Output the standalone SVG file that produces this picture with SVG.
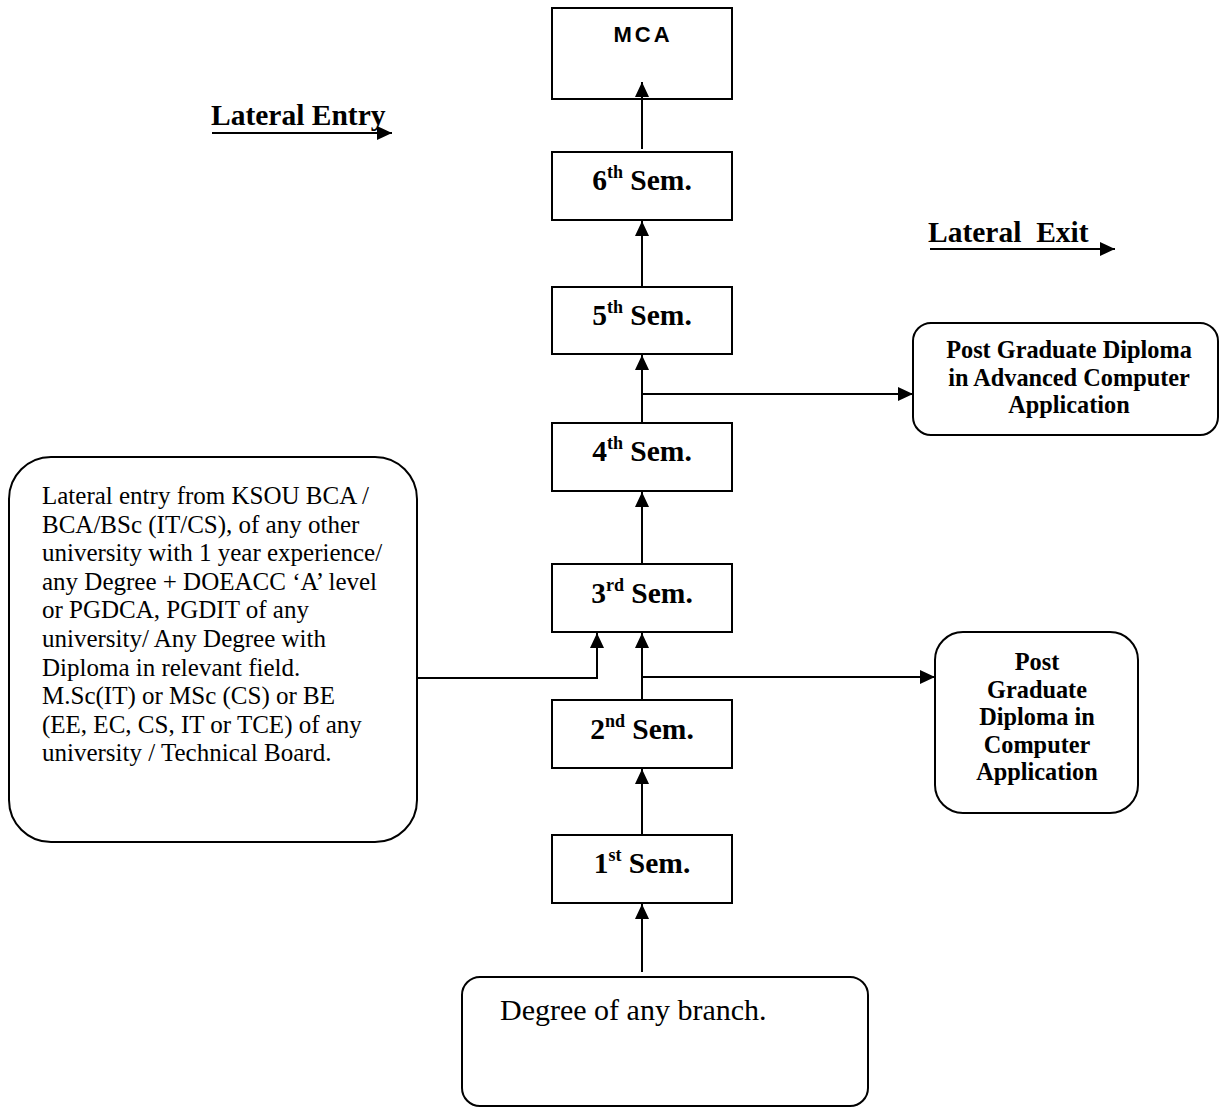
<svg xmlns="http://www.w3.org/2000/svg" width="1220" height="1109" viewBox="0 0 1220 1109">
<defs>
<marker id="ah" markerUnits="userSpaceOnUse" markerWidth="15" markerHeight="14" refX="15" refY="7" orient="auto" viewBox="0 0 15 14">
<path d="M0,0 L15,7 L0,14 z" fill="#000"/>
</marker>
<style>
.box{fill:#fff;stroke:#000;stroke-width:2}
.ln{fill:none;stroke:#000;stroke-width:2}
.sem{font-family:"Liberation Serif","Times New Roman",serif;font-weight:bold;font-size:29.5px;text-anchor:middle;fill:#000}
.sup{font-size:18px}
.lab{font-family:"Liberation Serif","Times New Roman",serif;font-weight:bold;font-size:29.5px;fill:#000}
.bt{font-family:"Liberation Serif","Times New Roman",serif;font-weight:bold;font-size:24.3px;text-anchor:middle;fill:#000}
.rt{font-family:"Liberation Serif","Times New Roman",serif;font-size:25px;fill:#000}
.big{font-family:"Liberation Serif","Times New Roman",serif;font-size:30px;fill:#000}
.mca{font-family:"Liberation Sans",Arial,sans-serif;font-weight:bold;font-size:22px;letter-spacing:3px;text-anchor:middle;fill:#000}
</style>
</defs>
<rect width="1220" height="1109" fill="#fff"/>

<g id="mca">
<rect class="box" x="552" y="8" width="180" height="91"/>
<text class="mca" x="643" y="42">MCA</text>
</g>

<g id="sem6">
<rect class="box" x="552" y="152" width="180" height="68"/>
<text class="sem" x="642" y="190">6<tspan class="sup" dy="-12">th</tspan><tspan dy="12"> Sem.</tspan></text>
</g>

<g id="sem5">
<rect class="box" x="552" y="287" width="180" height="67"/>
<text class="sem" x="642" y="325">5<tspan class="sup" dy="-12">th</tspan><tspan dy="12"> Sem.</tspan></text>
</g>

<g id="sem4">
<rect class="box" x="552" y="423" width="180" height="68"/>
<text class="sem" x="642" y="461">4<tspan class="sup" dy="-12">th</tspan><tspan dy="12"> Sem.</tspan></text>
</g>

<g id="sem3">
<rect class="box" x="552" y="564" width="180" height="68"/>
<text class="sem" x="642" y="603">3<tspan class="sup" dy="-12">rd</tspan><tspan dy="12"> Sem.</tspan></text>
</g>

<g id="sem2">
<rect class="box" x="552" y="700" width="180" height="68"/>
<text class="sem" x="642" y="739">2<tspan class="sup" dy="-12">nd</tspan><tspan dy="12"> Sem.</tspan></text>
</g>

<g id="sem1">
<rect class="box" x="552" y="835" width="180" height="68"/>
<text class="sem" x="642" y="873">1<tspan class="sup" dy="-12">st</tspan><tspan dy="12"> Sem.</tspan></text>
</g>

<g id="lateral-entry">
<text class="lab" x="211" y="125">Lateral Entry</text>
</g>

<g id="lateral-exit">
<text class="lab" x="928" y="242" xml:space="preserve">Lateral  Exit</text>
</g>

<g id="pgdaca">
<rect class="box" x="913" y="323" width="305" height="112" rx="18"/>
<text class="bt" x="1069" y="358">Post Graduate Diploma</text>
<text class="bt" x="1069" y="386">in Advanced Computer</text>
<text class="bt" x="1069" y="413">Application</text>
</g>

<g id="pgdca">
<rect class="box" x="935" y="632" width="203" height="181" rx="28"/>
<text class="bt" x="1037" y="670">Post</text>
<text class="bt" x="1037" y="697.5">Graduate</text>
<text class="bt" x="1037" y="725">Diploma in</text>
<text class="bt" x="1037" y="752.5">Computer</text>
<text class="bt" x="1037" y="780">Application</text>
</g>

<g id="lateral-entry-box">
<rect class="box" x="9" y="457" width="408" height="385" rx="42"/>
<text class="rt" x="42" y="504">Lateral entry from KSOU BCA /</text>
<text class="rt" x="42" y="532.6">BCA/BSc (IT/CS), of any other</text>
<text class="rt" x="42" y="561.2">university with 1 year experience/</text>
<text class="rt" x="42" y="589.8">any Degree + DOEACC ‘A’ level</text>
<text class="rt" x="42" y="618.4">or PGDCA, PGDIT of any</text>
<text class="rt" x="42" y="647">university/ Any Degree with</text>
<text class="rt" x="42" y="675.6">Diploma in relevant field.</text>
<text class="rt" x="42" y="704.2">M.Sc(IT) or MSc (CS) or BE</text>
<text class="rt" x="42" y="732.8">(EE, EC, CS, IT or TCE) of any</text>
<text class="rt" x="42" y="761.4">university / Technical Board.</text>
</g>

<g id="degree">
<rect class="box" x="462" y="977" width="406" height="129" rx="18"/>
<text class="big" x="500" y="1020">Degree of any branch.</text>
</g>

<g id="connectors">
<line class="ln" x1="642" y1="149" x2="642" y2="82" marker-end="url(#ah)"/>
<line class="ln" x1="642" y1="287" x2="642" y2="221" marker-end="url(#ah)"/>
<line class="ln" x1="642" y1="423" x2="642" y2="355" marker-end="url(#ah)"/>
<line class="ln" x1="642" y1="564" x2="642" y2="492" marker-end="url(#ah)"/>
<line class="ln" x1="642" y1="700" x2="642" y2="633" marker-end="url(#ah)"/>
<line class="ln" x1="642" y1="835" x2="642" y2="769" marker-end="url(#ah)"/>
<line class="ln" x1="642" y1="972" x2="642" y2="904" marker-end="url(#ah)"/>
<line class="ln" x1="642" y1="394" x2="913" y2="394" marker-end="url(#ah)"/>
<line class="ln" x1="642" y1="677" x2="935" y2="677" marker-end="url(#ah)"/>
<polyline class="ln" points="417,678 597,678 597,633" marker-end="url(#ah)"/>
<line class="ln" x1="212" y1="133" x2="392" y2="133" marker-end="url(#ah)"/>
<line class="ln" x1="930" y1="249" x2="1115" y2="249" marker-end="url(#ah)"/>
</g>
</svg>
